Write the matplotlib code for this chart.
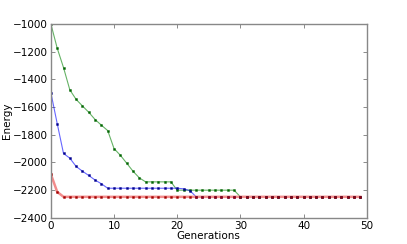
import numpy as np
import matplotlib
matplotlib.use('Agg')
import matplotlib.pyplot as plt

# energy per generation for three runs
generations = list(range(50))
energy_green = [-1000, -1175, -1315, -1476, -1545, -1592, -1638, -1690, -1731, -1770,
                -1900, -1948, -2005, -2063, -2111, -2140, -2140, -2140, -2140, -2140,
                -2200, -2200, -2200, -2200, -2200, -2200, -2200, -2200, -2200, -2200] + [-2248] * 20
energy_blue = [-1496, -1719, -1935, -1969, -2029, -2063, -2094, -2127, -2154, -2186,
               -2186, -2186, -2186, -2186, -2186, -2186, -2186, -2186, -2186, -2186,
               -2186, -2190, -2203] + [-2248] * 27
energy_red = [-2085, -2212] + [-2248] * 48

series = [
    (energy_green, 'g', 'darkgreen', 0.6, 0.8),
    (energy_blue, 'b', 'darkblue', 0.6, 0.8),
    (energy_red, '#f28c8c', '#a00000', 1.0, 1.8),
]

fig = plt.figure(figsize=(4.07, 2.44), dpi=100)
ax = fig.add_axes([0.125, 0.107, 0.776, 0.795])

# all lines first; red markers last so they sit on top
for vals, lc, mc, a, lw in series:
    ax.plot(generations, vals, color=lc, alpha=a, lw=lw)
for vals, lc, mc, a, lw in series:
    ax.plot(generations, vals, ls='none', marker='s', ms=1.4, color=mc, mec=mc, mew=0.3)

ax.set_xlim(0, 50)
ax.set_ylim(-2400, -1000)
ax.set_xticks([0, 10, 20, 30, 40, 50])
ax.set_yticks(np.arange(-2400, -999, 200))
ax.tick_params(direction='in', top=True, right=True, length=3, width=0.6,
               labelsize=7.5, pad=2, color='#777777')
for s in ax.spines.values():
    s.set_color('#888888')
    s.set_linewidth(1)
ax.set_xlabel('Generations', fontsize=7.5, labelpad=0)
ax.set_ylabel('Energy', fontsize=7.5, labelpad=1)

fig.savefig('out.png', dpi=100)
